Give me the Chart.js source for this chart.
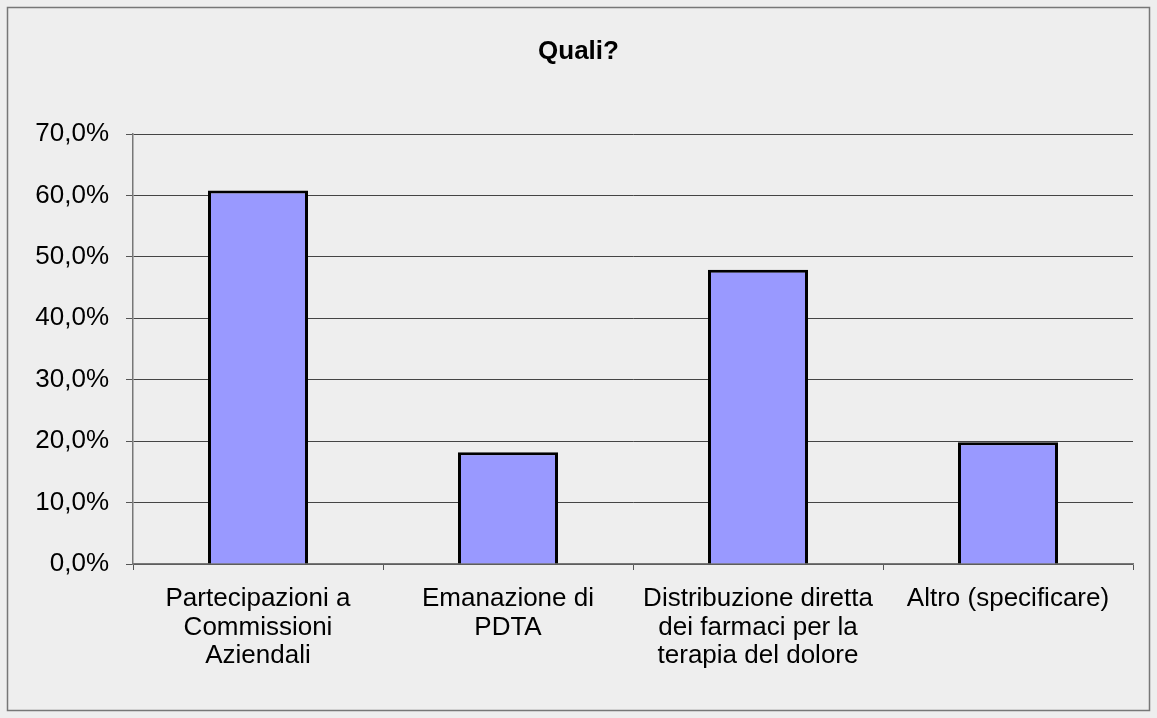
<!DOCTYPE html>
<html>
<head>
<meta charset="utf-8">
<title>Quali?</title>
<script src="https://cdn.jsdelivr.net/npm/chart.js@4/dist/chart.umd.min.js"></script>
<style>
    html, body { margin: 0; padding: 0; background: #eeeeee; }
    #wrap { width: 1157px; height: 718px; }
</style>
</head>
<body>
<div id="wrap"><canvas id="chart"></canvas></div>
<script>
// Chart data
const categories = [
    ['Partecipazioni a', 'Commissioni', 'Aziendali'],
    ['Emanazione di', 'PDTA'],
    ['Distribuzione diretta', 'dei farmaci per la', 'terapia del dolore'],
    ['Altro (specificare)']
];
const percentages = [60.8, 18.2, 47.9, 19.8];
const yTicks = [0, 10, 20, 30, 40, 50, 60, 70];

// Format tick as Italian percent
function formatPercent(value) {
    return value.toFixed(1).replace('.', ',') + '%';
}

// Background and outer frame
const framePlugin = {
    id: 'frame',
    beforeDraw(chart) {
        const ctx = chart.ctx;
        ctx.save();
        ctx.fillStyle = '#eeeeee';
        ctx.fillRect(0, 0, chart.width, chart.height);
        ctx.strokeStyle = '#777777';
        ctx.lineWidth = 1.5;
        ctx.strokeRect(7.5, 7.5, chart.width - 15, chart.height - 15);
        ctx.restore();
    }
};

const ctx = document.getElementById('chart').getContext('2d');
new Chart(ctx, {
    type: 'bar',
    data: {
        labels: categories,
        datasets: [{
            data: percentages,
            backgroundColor: '#9999ff',
            borderColor: '#000000',
            borderWidth: 3,
            barPercentage: 0.4,
            categoryPercentage: 1
        }]
    },
    options: {
        responsive: true,
        maintainAspectRatio: false,
        animation: false,
        layout: {
            // symmetric side padding keeps the title centred on the canvas
            padding: { left: 24, right: 24, top: 0, bottom: 0 }
        },
        plugins: {
            legend: { display: false },
            tooltip: { enabled: false },
            title: {
                display: true,
                text: 'Quali?',
                color: '#000000',
                font: { family: 'Liberation Sans, Arial, sans-serif', size: 26, weight: 'bold', lineHeight: 1 },
                padding: { top: 39, bottom: 69 }
            }
        },
        scales: {
            y: {
                min: 0,
                max: 70,
                afterBuildTicks(scale) {
                    scale.ticks = yTicks.map(v => ({ value: v }));
                },
                afterFit(scale) {
                    scale.width = 133 - 24;
                },
                ticks: {
                    color: '#000000',
                    padding: 17,
                    font: { family: 'Liberation Sans, Arial, sans-serif', size: 26 },
                    callback: value => formatPercent(value)
                },
                grid: {
                    color: '#444444',
                    lineWidth: 1,
                    tickLength: 7,
                    tickColor: '#555555'
                },
                border: { color: '#777777', width: 1.5 }
            },
            x: {
                afterFit(scale) {
                    scale.height = 718 - 564;
                },
                ticks: {
                    color: '#000000',
                    padding: 15,
                    maxRotation: 0,
                    autoSkip: false,
                    font: { family: 'Liberation Sans, Arial, sans-serif', size: 26, lineHeight: 1.09 }
                },
                grid: {
                    offset: true,
                    drawOnChartArea: false,
                    tickLength: 6,
                    tickColor: '#555555'
                },
                border: { color: '#777777', width: 1.5 }
            }
        }
    },
    plugins: [framePlugin]
});
</script>
</body>
</html>
